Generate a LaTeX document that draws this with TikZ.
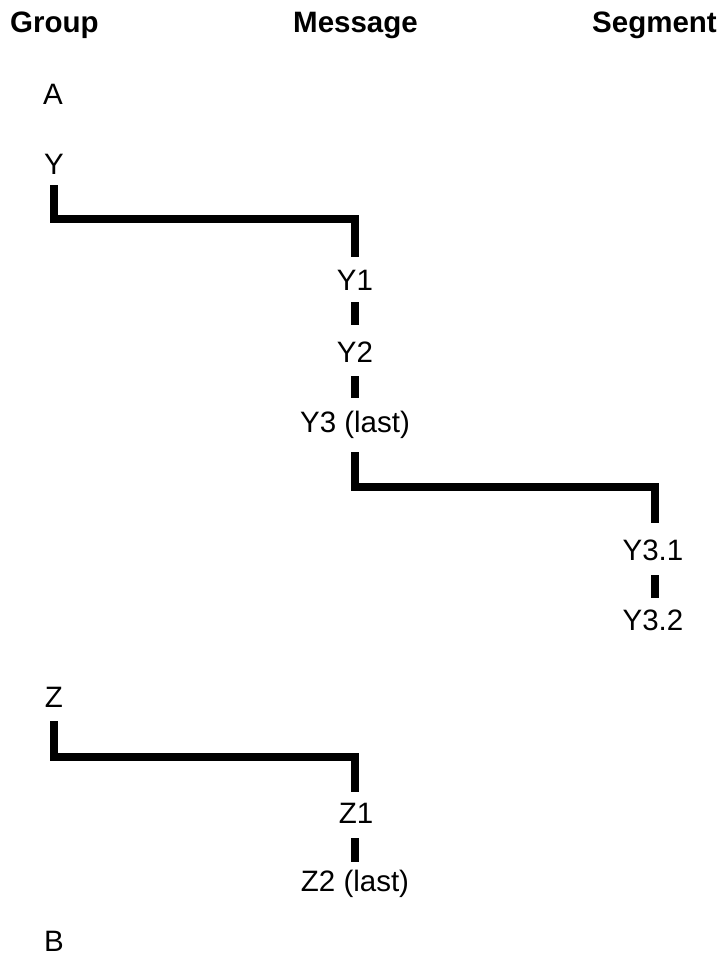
\documentclass[tikz,border=0pt]{standalone}
\usepackage{fontspec}
\setmainfont{Liberation Sans}
\begin{document}
\begin{tikzpicture}[x=1pt,y=-1pt,
  lbl/.style={inner sep=0pt,anchor=base,font=\fontsize{29.5}{32}\selectfont},
  conn/.style={line width=8pt,line cap=butt,line join=miter,black}]
\useasboundingbox (0,0) rectangle (721,958);
% headers
\node[lbl,anchor=base west] (hg) at (10,33) {\bfseries Group};
\node[lbl,anchor=base west] (hm) at (293,33) {\bfseries Message};
\node[lbl,anchor=base east] (hs) at (717,33) {\bfseries Segment};
% labels
\node[lbl] (A) at (53,104) {A};
\node[lbl] (Y) at (54,174) {Y};
\node[lbl] (Y1) at (355,290) {Y1};
\node[lbl] (Y2) at (355,362) {Y2};
\node[lbl] (Y3) at (355,432) {Y3 (last)};
\node[lbl] (Y31) at (653,560) {Y3.1};
\node[lbl] (Y32) at (653,630) {Y3.2};
\node[lbl] (Z) at (54,707) {Z};
\node[lbl] (Z1) at (356,823) {Z1};
\node[lbl] (Z2) at (355,891) {Z2 (last)};
\node[lbl] (B) at (54,951) {B};
% connectors
\draw[conn] ([yshift=-11pt]Y.base) -- ([yshift=-45pt]Y.base) -| ([yshift=33pt]Y1.base);
\draw[conn] ([yshift=-12pt]Y1.base) -- ([yshift=37pt]Y2.base);
\draw[conn] ([yshift=-14pt]Y2.base) -- ([yshift=34pt]Y3.base);
\draw[conn] ([yshift=-20pt]Y3.base) -- ([yshift=-55pt]Y3.base) -| ([xshift=2pt,yshift=37pt]Y31.base);
\draw[conn] ([xshift=2pt,yshift=-15pt]Y31.base) -- ([xshift=2pt,yshift=32pt]Y32.base);
\draw[conn] ([yshift=-14pt]Z.base) -- ([yshift=-50pt]Z.base) -| ([xshift=-1pt,yshift=31pt]Z1.base);
\draw[conn] ([xshift=-1pt,yshift=-15pt]Z1.base) -- ([yshift=29pt]Z2.base);
\end{tikzpicture}
\end{document}
